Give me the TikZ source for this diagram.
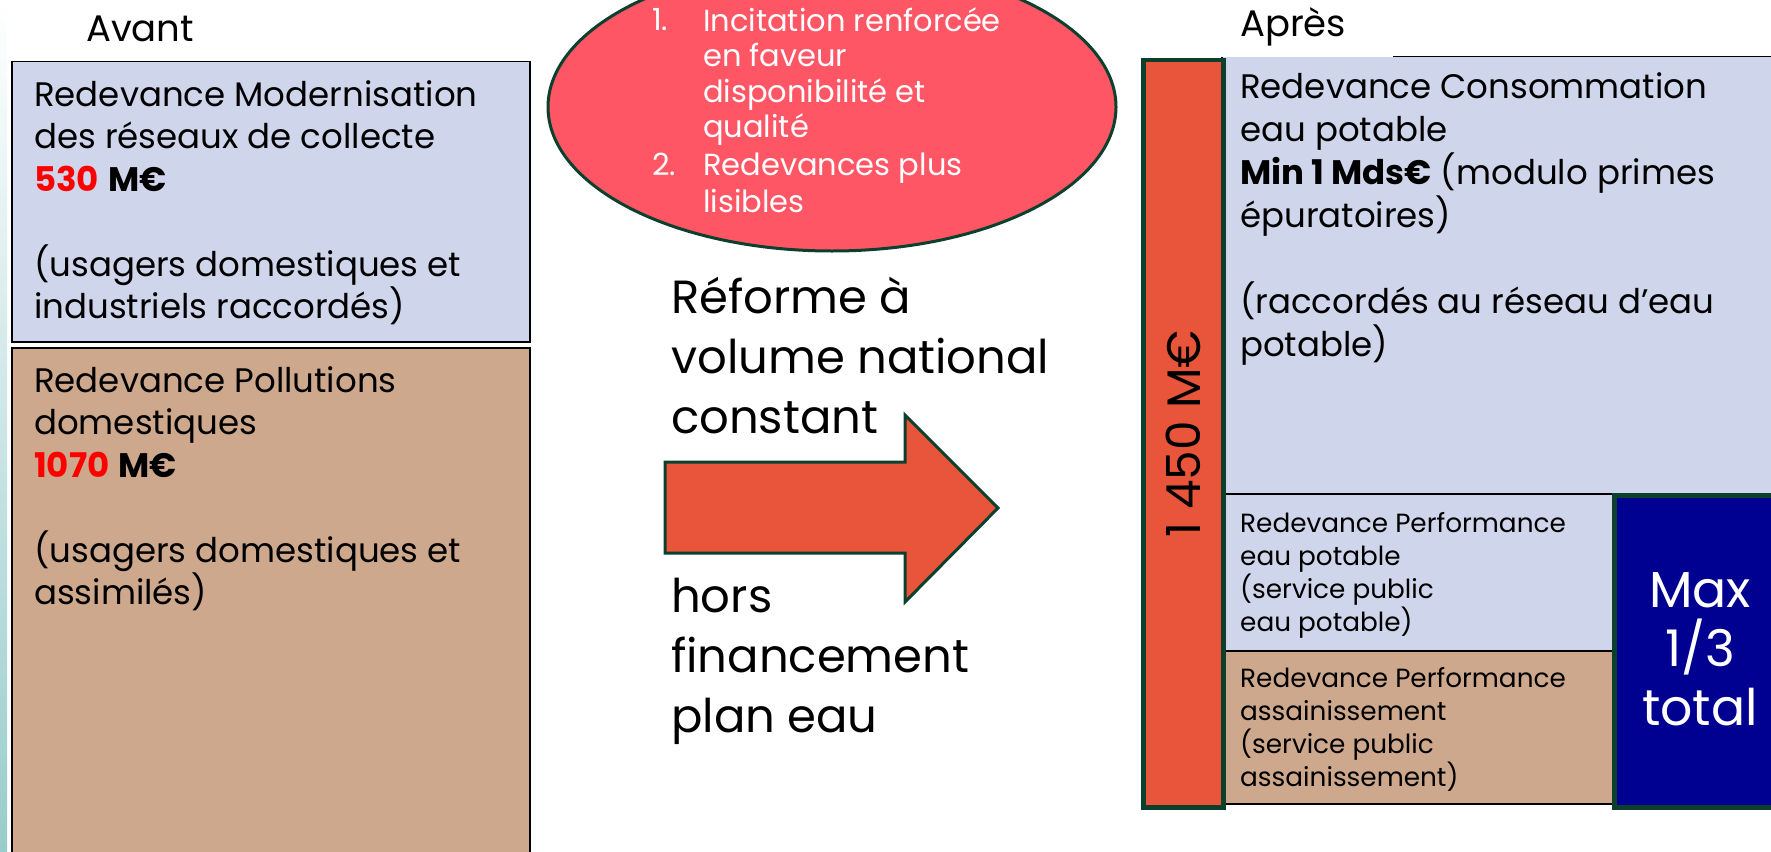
\documentclass[tikz,border=0pt]{standalone}
\usepackage{fontspec}
\setmainfont{Poppins}
\usetikzlibrary{shapes.geometric}
\definecolor{bleuclair}{RGB}{207,213,234}
\definecolor{beige}{RGB}{205,168,140}
\definecolor{orangefr}{RGB}{232,85,58}
\definecolor{rose}{RGB}{255,86,102}
\definecolor{marine}{RGB}{0,0,145}
\definecolor{vertfonce}{RGB}{10,64,44}
\definecolor{rouge}{RGB}{255,0,0}

\begin{document}
\begin{tikzpicture}[x=1pt,y=-1pt]
\useasboundingbox (0,0) rectangle (1771,851);
\clip (0,0) rectangle (1771,851);
\shade[top color=white,bottom color=teal!40] (0,0) rectangle (7,851);

\begin{scope}[every node/.style={draw=black,line width=1.5pt,anchor=north west,inner sep=0pt}]
    \node (modern)[fill=bleuclair,minimum width=518,minimum height=280] at (11,61) {};
    \node (pollu)[fill=beige,minimum width=518,minimum height=520] at (11,347) {};
    \node (conso)[fill=bleuclair,minimum width=590,minimum height=437] at (1221,56) {};
    \node (perfeau)[fill=bleuclair,minimum width=391,minimum height=157] at (1221,493) {};
    \node (perfass)[fill=beige,minimum width=391,minimum height=153] at (1221,650) {};
\end{scope}

\node (apres)[fill=white,anchor=south west,inner xsep=19pt,inner ysep=20pt,text depth=0pt,
    text width=134pt,align=left,font=\fontsize{37}{42}\selectfont] at (1221,57) {Après};

\begin{scope}[every node/.style={draw=vertfonce,line width=4.5pt,anchor=north west,inner sep=0pt}]
    \node (total)[fill=orangefr,minimum width=80,minimum height=747] at (1141,58) {};
    \node (max)[fill=marine,minimum width=200,minimum height=312] at (1612,493) {};
\end{scope}

\node (objectifs)[ellipse,fill=rose,draw=vertfonce,line width=3pt,minimum width=568,
    minimum height=288,inner sep=0pt] at (832,107) {};
\draw[fill=orangefr,draw=vertfonce,line width=3pt,line join=miter]
    (665,462) -- (905,462) -- (905,415) -- (998,508) -- (905,602) -- (905,553) -- (665,553) -- cycle;

\begin{scope}[every node/.style={anchor=base west,align=left,inner sep=0pt}]
    \node (avant)[font=\fontsize{37}{42}\selectfont] at (86,42) {Avant};
    \node (txtmodern)[font=\fontsize{34}{42.5}\selectfont] at (34,318.5)
        {Redevance Modernisation\\des réseaux de collecte\\\textbf{\color{rouge}530} \textbf{M€}\\[42.5pt]
         (usagers domestiques et\\industriels raccordés)};
    \node (txtpollu)[font=\fontsize{34}{42.5}\selectfont] at (34,604.5)
        {Redevance Pollutions\\domestiques\\\textbf{\color{rouge}1070} \textbf{M€}\\[42.5pt]
         (usagers domestiques et\\assimilés)};
    \node (num1)[white,font=\fontsize{30.5}{35.5}\selectfont] at (652,31) {1.};
    \node (num2)[white,font=\fontsize{30.5}{35.5}\selectfont] at (652,175) {2.};
    \node (obj1)[white,font=\fontsize{30.5}{35.5}\selectfont] at (703,137.5)
        {Incitation renforcée\\en faveur\\disponibilité et\\qualité};
    \node (obj2)[white,font=\fontsize{30.5}{37}\selectfont] at (703,212)
        {Redevances plus\\lisibles};
    \node (reforme)[font=\fontsize{46.5}{60}\selectfont] at (671,433)
        {Réforme à\\volume national\\constant};
    \node (hors)[font=\fontsize{46.5}{60}\selectfont] at (671,732)
        {hors\\financement\\plan eau};
    \node (txtconso)[font=\fontsize{34}{43}\selectfont] at (1240,356)
        {Redevance Consommation\\eau potable\\\textbf{Min 1 Mds€} (modulo primes\\épuratoires)\\[43pt]
         (raccordés au réseau d’eau\\potable)};
    \node (txtperfeau)[font=\fontsize{26.3}{33}\selectfont] at (1240,631)
        {Redevance Performance\\eau potable\\(service public\\eau potable)};
    \node (txtperfass)[font=\fontsize{26.3}{33}\selectfont] at (1240,786)
        {Redevance Performance\\assainissement\\(service public\\assainissement)};
\end{scope}

\node (txttotal)[rotate=90,font=\fontsize{47}{52}\selectfont] at (total.center) {1 450 M€};
\node (txtmax)[white,anchor=base,align=center,inner sep=0pt,font=\fontsize{50.5}{59}\selectfont]
    at (1700,725) {Max\\1/3\\total};
\end{tikzpicture}
\end{document}
